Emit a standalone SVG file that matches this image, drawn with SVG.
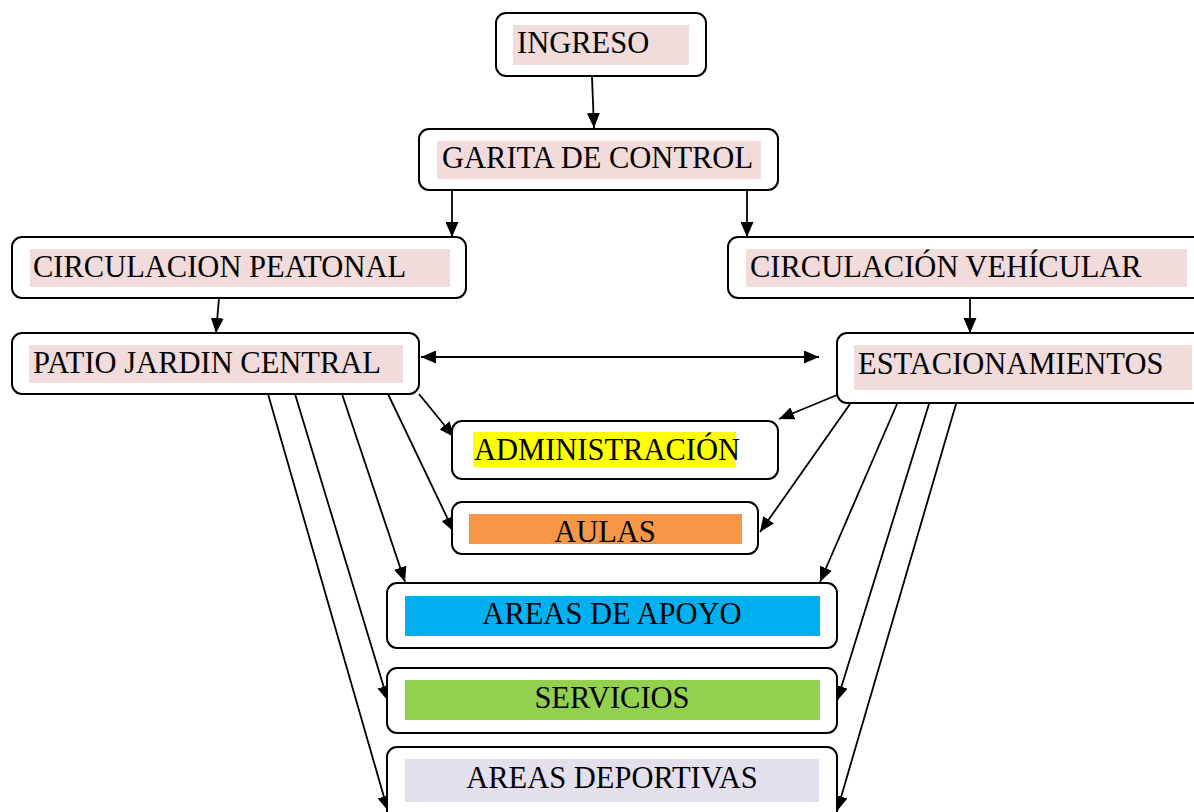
<svg xmlns="http://www.w3.org/2000/svg" width="1194" height="812" viewBox="0 0 1194 812">
<style>
.box{fill:#fff;stroke:#000;stroke-width:2}
.t{font-family:"Liberation Serif","Times New Roman",serif;font-size:30.5px;fill:#000}
.c{text-anchor:middle}
.pink{fill:#f2dcdb}
.ln{stroke:#000;stroke-width:1.8;fill:none;marker-end:url(#ah)}
</style>
<defs>
<marker id="ah" markerUnits="userSpaceOnUse" markerWidth="15" markerHeight="13" refX="15" refY="6.5" orient="auto">
<path d="M0,0 L15,6.5 L0,13 z" fill="#000"/>
</marker>
<marker id="ahs" markerUnits="userSpaceOnUse" markerWidth="15" markerHeight="13" refX="0" refY="6.5" orient="auto">
<path d="M15,0 L0,6.5 L15,13 z" fill="#000"/>
</marker>
</defs>
<rect width="1194" height="812" fill="#fff"/>
<g id="connectors">
<line class="ln" x1="592" y1="77" x2="594" y2="128"/>
<line class="ln" x1="452" y1="190" x2="452" y2="237"/>
<line class="ln" x1="747" y1="190" x2="747" y2="237"/>
<line class="ln" x1="219" y1="298" x2="216" y2="333"/>
<line class="ln" x1="970" y1="298" x2="970" y2="333"/>
<line class="ln" x1="421" y1="357" x2="819" y2="357" marker-start="url(#ahs)"/>
<line class="ln" x1="419" y1="394" x2="454" y2="437"/>
<line class="ln" x1="388" y1="394" x2="454" y2="532"/>
<line class="ln" x1="342" y1="394" x2="405" y2="582"/>
<line class="ln" x1="295" y1="394" x2="388" y2="701"/>
<line class="ln" x1="268" y1="394" x2="388" y2="811"/>
<line class="ln" x1="837" y1="395" x2="779" y2="419"/>
<line class="ln" x1="850" y1="404" x2="760" y2="532"/>
<line class="ln" x1="897" y1="404" x2="820" y2="582"/>
<line class="ln" x1="929" y1="404" x2="837" y2="701"/>
<line class="ln" x1="956" y1="404" x2="837" y2="811"/>
</g>
<g id="ingreso">
<rect class="box" x="496" y="13" width="210" height="63" rx="10"/>
<rect class="pink" x="513" y="25" width="176" height="40"/>
<text class="t" x="517" y="53">INGRESO</text>
</g>
<g id="garita">
<rect class="box" x="419" y="129" width="359" height="61" rx="10"/>
<rect class="pink" x="437" y="141" width="324" height="38"/>
<text class="t" x="442" y="168">GARITA DE CONTROL</text>
</g>
<g id="circ-peatonal">
<rect class="box" x="12" y="237" width="454" height="61" rx="10"/>
<rect class="pink" x="30" y="249" width="420" height="38"/>
<text class="t" x="33" y="277">CIRCULACION PEATONAL</text>
</g>
<g id="circ-vehicular">
<rect class="box" x="728" y="237" width="480" height="61" rx="10"/>
<rect class="pink" x="746" y="249" width="441" height="38"/>
<text class="t" x="750" y="277">CIRCULACIÓN VEHÍCULAR</text>
</g>
<g id="patio">
<rect class="box" x="12" y="333" width="407" height="61" rx="10"/>
<rect class="pink" x="29" y="345" width="374" height="38"/>
<text class="t" x="33" y="373">PATIO JARDIN CENTRAL</text>
</g>
<g id="estacionamientos">
<rect class="box" x="837" y="333" width="370" height="70" rx="10"/>
<rect class="pink" x="854" y="345" width="338" height="45"/>
<text class="t" x="858" y="374">ESTACIONAMIENTOS</text>
</g>
<g id="administracion">
<rect class="box" x="452" y="421" width="326" height="58" rx="10"/>
<rect x="473" y="432" width="263" height="35" fill="#ffff00"/>
<text class="t" x="474" y="460">ADMINISTRACIÓN</text>
</g>
<g id="aulas">
<rect class="box" x="452" y="502" width="306" height="52" rx="10"/>
<rect x="469" y="514" width="273" height="30" fill="#f79646"/>
<text class="t c" x="605" y="542">AULAS</text>
</g>
<g id="areas-apoyo">
<rect class="box" x="387" y="583" width="450" height="65" rx="10"/>
<rect x="405" y="596" width="415" height="40" fill="#00b0f0"/>
<text class="t c" x="612" y="624">AREAS DE APOYO</text>
</g>
<g id="servicios">
<rect class="box" x="387" y="668" width="450" height="65" rx="10"/>
<rect x="405" y="680" width="415" height="40" fill="#92d050"/>
<text class="t c" x="612" y="708">SERVICIOS</text>
</g>
<g id="areas-deportivas">
<rect class="box" x="387" y="747" width="450" height="80" rx="10"/>
<rect x="405" y="759" width="414" height="43" fill="#e4dfec"/>
<text class="t c" x="612" y="788">AREAS DEPORTIVAS</text>
</g>
</svg>
